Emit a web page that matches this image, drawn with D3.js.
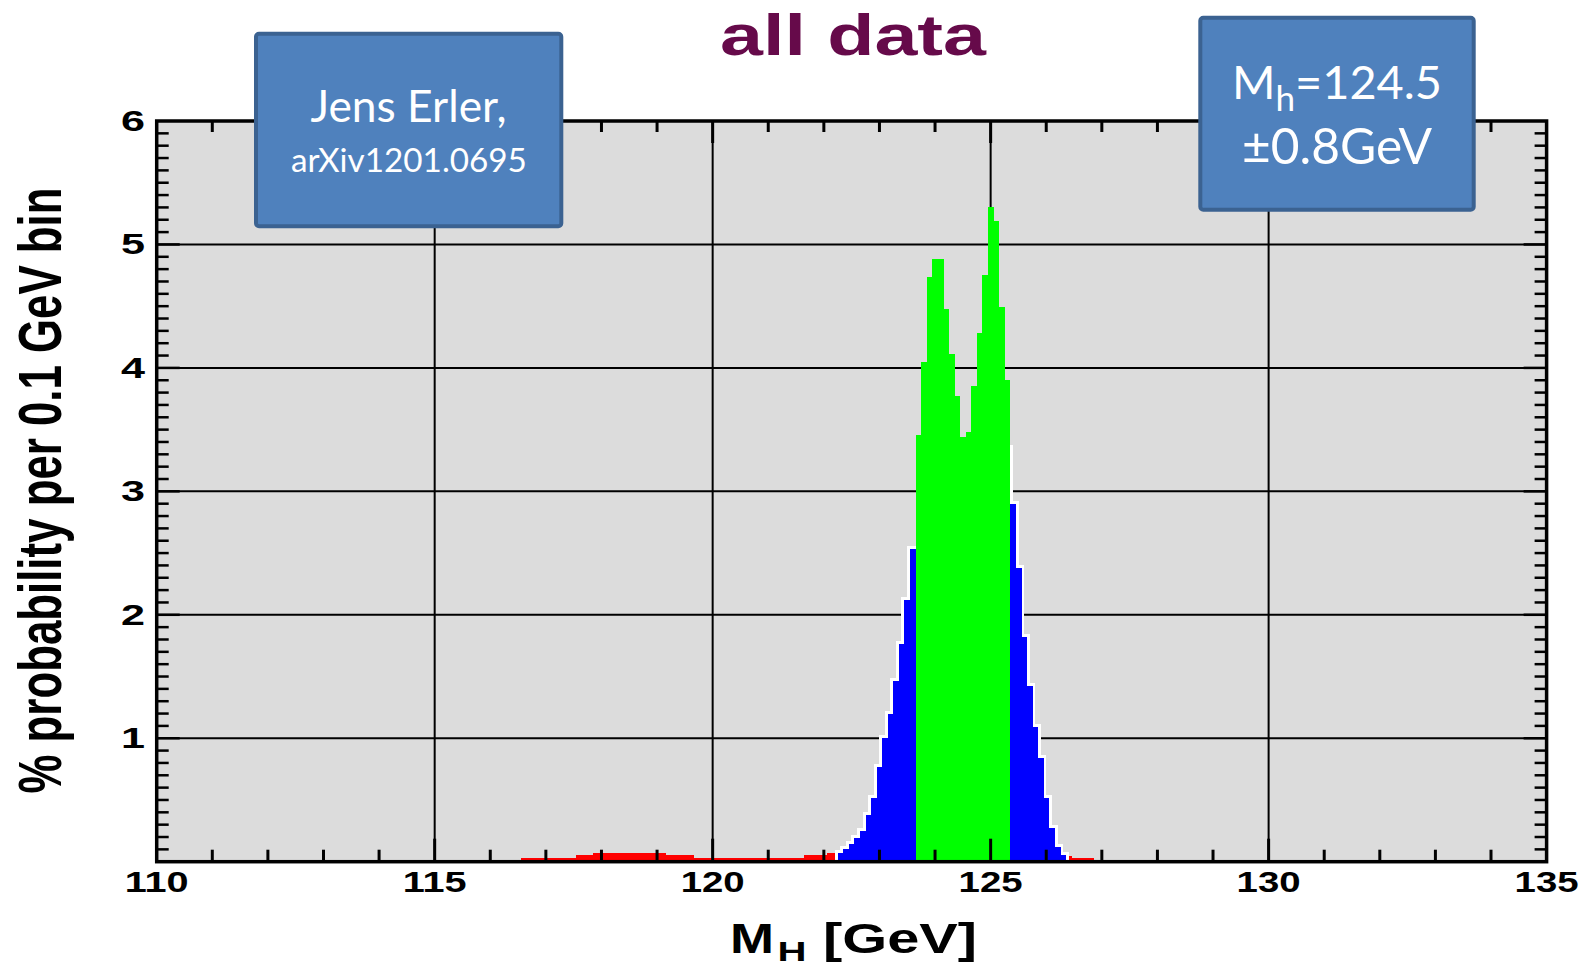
<!DOCTYPE html>
<html>
<head>
<meta charset="utf-8">
<script src="https://cdn.jsdelivr.net/npm/d3@7"></script>
<style>
  html, body { margin: 0; padding: 0; background: #ffffff; }
  svg { display: block; }
</style>
</head>
<body>
<svg id="chart" width="1583" height="967"></svg>
<script>
// ---------------- data ----------------
// bin centres in GeV, bin width 0.1 GeV; values in % per 0.1 GeV bin
const redBins = [116.6,116.7,116.8,116.9,117.0,117.1,117.2,117.3,117.4,117.5,
  117.6,117.7,117.8,
  117.9,118.0,118.1,118.2,118.3,118.4,118.5,118.6,118.7,118.8,118.9,119.0,119.1,
  119.2,119.3,119.4,119.5,119.6,
  119.7,119.8,119.9,120.0,120.1,120.2,120.3,120.4,120.5,120.6,120.7,120.8,120.9,121.0,121.1,121.2,121.3,121.4,121.5,121.6,
  121.7,121.8,121.9,122.0,
  122.1,122.2,
  126.4,126.5,126.6,126.7,126.8];
const redVals = [0.03,0.03,0.03,0.03,0.03,0.03,0.03,0.03,0.03,0.03,
  0.055,0.055,0.055,
  0.07,0.07,0.07,0.07,0.07,0.07,0.07,0.07,0.07,0.07,0.07,0.07,0.07,
  0.055,0.055,0.055,0.055,0.055,
  0.03,0.03,0.03,0.03,0.03,0.03,0.03,0.03,0.03,0.03,0.03,0.03,0.03,0.03,0.03,0.03,0.03,0.03,0.03,0.03,
  0.055,0.055,0.055,0.055,
  0.07,0.07,
  0.05,0.03,0.03,0.03,0.03];

const blueBins = [122.3,122.4,122.5,122.6,122.7,122.8,122.9,123.0,123.1,123.2,123.3,123.4,123.5,123.6,
  125.3,
  125.4,125.5,125.6,125.7,125.8,125.9,126.0,126.1,126.2,126.3];
const blueVals = [0.07,0.10,0.14,0.19,0.25,0.38,0.52,0.77,1.00,1.20,1.46,1.76,2.12,2.53,
  3.35,
  2.90,2.38,1.82,1.42,1.09,0.84,0.52,0.27,0.12,0.056];

const greenBins = [123.7,123.8,123.9,124.0,124.1,124.2,124.3,124.4,124.5,124.6,124.7,124.8,124.9,125.0,125.1,125.2,125.3];
const greenVals = [3.46,4.05,4.74,4.88,4.88,4.48,4.11,3.77,3.44,3.48,3.85,4.28,4.75,5.30,5.19,4.49,3.90];

const xTickLabels = [110,115,120,125,130,135];
const yTickLabels = [1,2,3,4,5,6];
const binWidth = 0.1;

const titleText = "all data";
const yLabelText = "% probability per 0.1 GeV bin";
const box1Lines = ["Jens Erler,", "arXiv1201.0695"];
const box2Lines = ["M", "h", "=124.5", "\u00B10.8GeV"];

// ---------------- layout ----------------
const svg = d3.select("#chart");
const L = 156.7, R = 1546.6, T = 121, B = 861.7;
const x = d3.scaleLinear().domain([110,135]).range([L,R]);
const y = d3.scaleLinear().domain([0,6]).range([B,T]);
const chartFont = "'Liberation Sans', Arial, sans-serif";
const boxFont = "Lato, 'Open Sans', sans-serif";

svg.append("defs").append("clipPath").attr("id","plotclip")
  .append("rect").attr("x",L).attr("y",T).attr("width",R-L).attr("height",B-T);

// background
svg.append("rect").attr("x",L).attr("y",T).attr("width",R-L).attr("height",B-T).attr("fill","#dcdcdc");

// grid lines
const grid = svg.append("g").attr("stroke","#000").attr("stroke-width",2);
[115,120,125,130].forEach(v => grid.append("line").attr("x1",x(v)).attr("x2",x(v)).attr("y1",T).attr("y2",B));
[1,2,3,4,5].forEach(v => grid.append("line").attr("x1",L).attr("x2",R).attr("y1",y(v)).attr("y2",y(v)));

const plot = svg.append("g").attr("clip-path","url(#plotclip)");
function bars(g, bins, vals, fill, stroke, sw) {
  g.selectAll(null).data(bins.map((c,i)=>({c, v: vals[i]}))).enter().append("rect")
    .attr("x", d => x(d.c - binWidth/2))
    .attr("width", d => x(d.c + binWidth/2) - x(d.c - binWidth/2) + (stroke ? 0 : 0.4))
    .attr("y", d => y(d.v))
    .attr("height", d => y(0) - y(d.v))
    .attr("fill", fill)
    .attr("stroke", stroke || "none")
    .attr("stroke-width", sw || 0)
    .attr("shape-rendering", "crispEdges");
}
bars(plot.append("g"), redBins, redVals, "#ff0000");
bars(plot.append("g"), blueBins, blueVals, "#ffffff", "#ffffff", 6);   // white outline
bars(plot.append("g"), blueBins, blueVals, "#0000ff");
bars(plot.append("g"), greenBins, greenVals, "#00ff00");

// frame
svg.append("rect").attr("x",L).attr("y",T).attr("width",R-L).attr("height",B-T)
  .attr("fill","none").attr("stroke","#000").attr("stroke-width",3.5);

// ticks
const tk = svg.append("g").attr("stroke","#000").attr("stroke-width",3);
d3.range(111,135).forEach(v => {
  const len = (v % 5 === 0) ? 23 : 12;
  tk.append("line").attr("x1",x(v)).attr("x2",x(v)).attr("y1",B).attr("y2",B-len);
  tk.append("line").attr("x1",x(v)).attr("x2",x(v)).attr("y1",T).attr("y2",T+len-1);
});
d3.range(1,60).forEach(i => {
  const v = i/10;
  const len = (i % 10 === 0) ? 23 : 12;
  tk.append("line").attr("x1",L).attr("x2",L+len).attr("y1",y(v)).attr("y2",y(v)).attr("stroke-width",2.5);
  tk.append("line").attr("x1",R).attr("x2",R-len).attr("y1",y(v)).attr("y2",y(v)).attr("stroke-width",2.5);
});

// tick labels
svg.append("g").selectAll(null).data(xTickLabels).enter().append("text")
  .attr("x", d => x(d)).attr("y", 891.7)
  .attr("text-anchor","middle")
  .attr("font-family",chartFont).attr("font-weight","bold").attr("font-size",29)
  .attr("textLength",64).attr("lengthAdjust","spacingAndGlyphs")
  .attr("fill","#000").text(d => d);
svg.append("g").selectAll(null).data(yTickLabels).enter().append("text")
  .attr("x", 145).attr("y", d => y(d) + 10)
  .attr("text-anchor","end")
  .attr("font-family",chartFont).attr("font-weight","bold").attr("font-size",29)
  .attr("textLength",24).attr("lengthAdjust","spacingAndGlyphs")
  .attr("fill","#000").text(d => d);

// title
svg.append("text").attr("x",720).attr("y",55)
  .attr("font-family",chartFont).attr("font-weight","bold").attr("font-size",57)
  .attr("textLength",266).attr("lengthAdjust","spacingAndGlyphs")
  .attr("fill","#660a4a").text(titleText);

// x axis label  M_H [GeV]
const xl = svg.append("g").attr("font-family",chartFont).attr("font-weight","bold").attr("fill","#000");
xl.append("text").attr("x",730).attr("y",952.7).attr("font-size",43)
  .attr("textLength",44).attr("lengthAdjust","spacingAndGlyphs").text("M");
xl.append("text").attr("x",777.5).attr("y",961).attr("font-size",27)
  .attr("textLength",29).attr("lengthAdjust","spacingAndGlyphs").text("H");
xl.append("text").attr("x",823).attr("y",952.7).attr("font-size",43)
  .attr("textLength",154).attr("lengthAdjust","spacingAndGlyphs").text("[GeV]");

// y axis label
svg.append("text")
  .attr("transform","translate(61,490.5) scale(1.38,1) rotate(-90)")
  .attr("text-anchor","middle")
  .attr("font-family",chartFont).attr("font-weight","bold").attr("font-size",44)
  .attr("textLength",606).attr("lengthAdjust","spacingAndGlyphs")
  .attr("fill","#000").text(yLabelText);

// boxes
function box(x0, y0, w, h) {
  svg.append("rect").attr("x",x0).attr("y",y0).attr("width",w).attr("height",h)
    .attr("rx",3).attr("fill","#4f81bd").attr("stroke","#3b6291").attr("stroke-width",4);
}
box(256, 33.7, 305.3, 192.6);
box(1200.3, 17.7, 273.4, 192);

function fitText(sel, target) {
  const w = sel.node().getComputedTextLength();
  const fs = parseFloat(sel.attr("font-size"));
  sel.attr("font-size", fs * target / w);
}
const b1a = svg.append("text").attr("x",408.5).attr("y",121.7).attr("text-anchor","middle")
  .attr("font-family",boxFont).attr("font-size",40).attr("fill","#fff").text(box1Lines[0]);
fitText(b1a, 196);
const b1b = svg.append("text").attr("x",409).attr("y",171.7).attr("text-anchor","middle")
  .attr("font-family",boxFont).attr("font-size",27).attr("fill","#fff").text(box1Lines[1]);
fitText(b1b, 236);

const b2a = svg.append("text").attr("x",1337).attr("y",99.3).attr("text-anchor","middle")
  .attr("font-family",boxFont).attr("font-size",44).attr("fill","#fff");
b2a.append("tspan").text(box2Lines[0]);
b2a.append("tspan").attr("font-size","0.75em").attr("dy",12).text(box2Lines[1]);
b2a.append("tspan").attr("dy",-12).text(box2Lines[2]);
fitText(b2a, 210);
const b2b = svg.append("text").attr("x",1337).attr("y",164.3).attr("text-anchor","middle")
  .attr("font-family",boxFont).attr("font-size",44).attr("fill","#fff").text(box2Lines[3]);
fitText(b2b, 190);
</script>
</body>
</html>
